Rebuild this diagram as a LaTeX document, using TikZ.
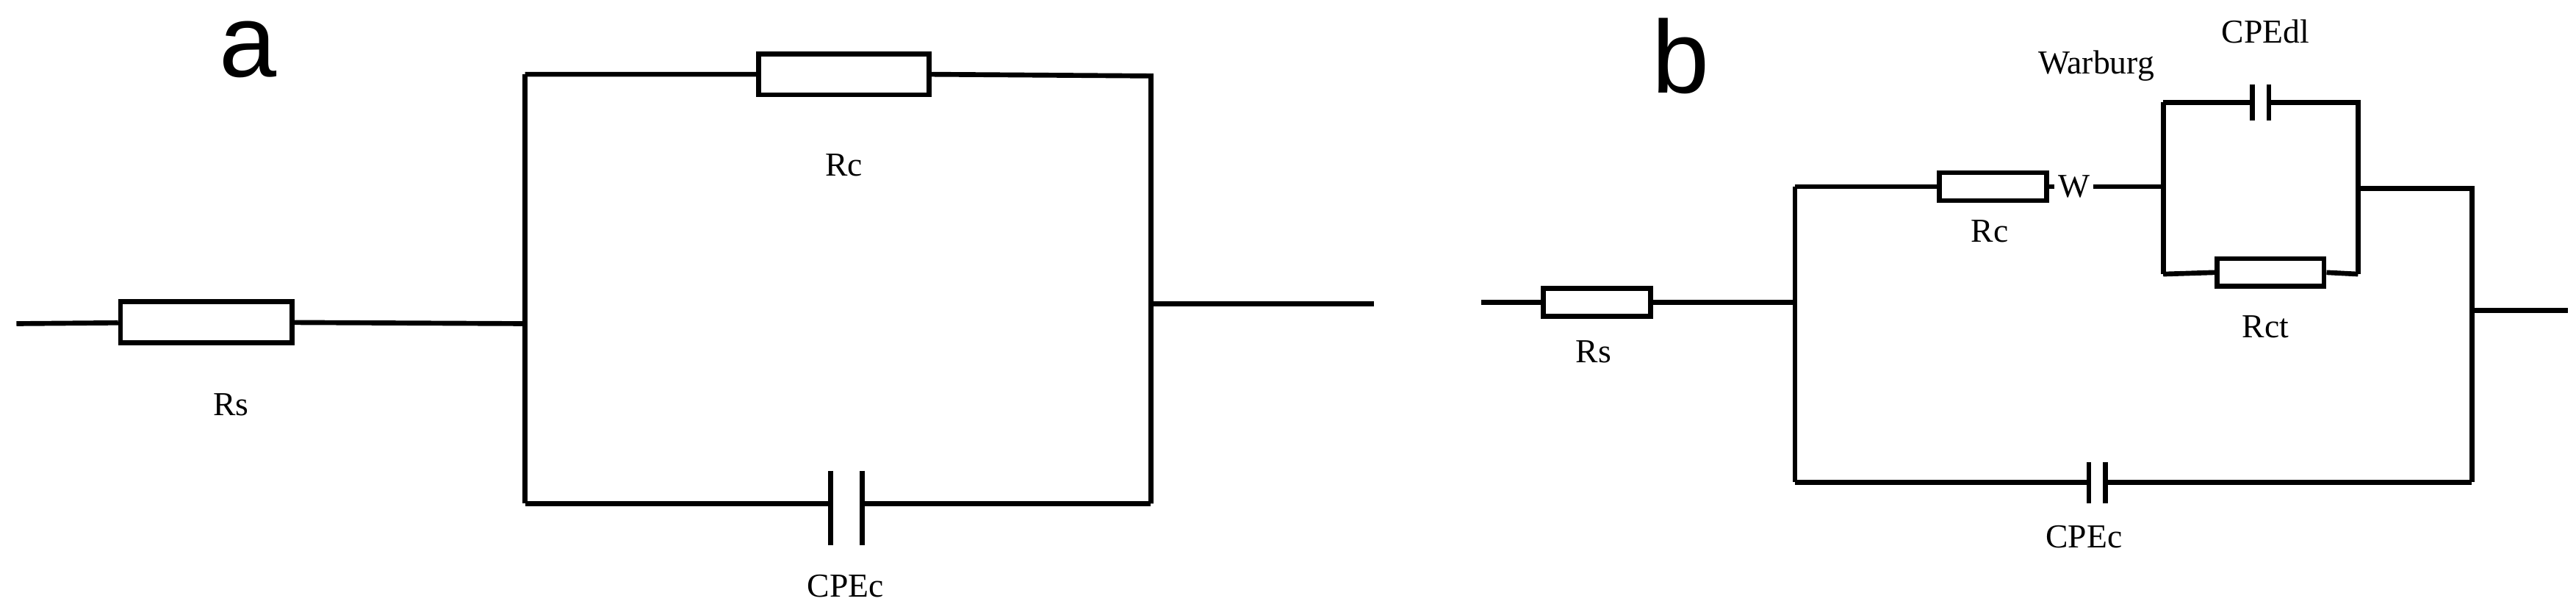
\documentclass[tikz,border=0pt]{standalone}
\usepackage{fontspec}
\setmainfont{Liberation Serif}
\newfontfamily\lblsans{Liberation Sans}
\begin{document}
\begin{tikzpicture}[x=0.0225cm,y=-0.0225cm,line width=1.9pt,
  res/.style={draw,fill=white,rectangle,inner sep=0pt,minimum width=#1},
  lbl/.style={font=\fontsize{13}{14}\selectfont,inner sep=0pt},
  big/.style={font=\lblsans\fontsize{40}{42}\selectfont,inner sep=0pt}]
\useasboundingbox (0,0) rectangle (1560,372.4);
% ---------- panel a ----------
\node[big] (la) at (150,30) {a};
\coordinate (ain) at (10,196);
\node[res=2.34cm, minimum height=0.56cm] (Rsa) at (125,195) {};
\coordinate (aj1) at (318,196);
\coordinate (aj1t) at (318,45);
\coordinate (aj1b) at (318,305);
\node[res=2.32cm, minimum height=0.56cm] (Rca) at (511,45) {};
\coordinate (aj2t) at (697,46);
\coordinate (aj2b) at (697,305);
\coordinate (aj2) at (697,184);
\coordinate (aout) at (832,184);
\coordinate (acl) at (503,305);
\coordinate (acr) at (522,305);
\draw (ain) -- (Rsa) (Rsa) -- (aj1);
\draw (aj1t) -- (aj1b);
\draw (aj1t) -- (Rca.west) (Rca.east) -- (aj2t) -- (aj2b);
\draw (aj2) -- (aout);
\draw (aj1b) -- (acl) (acr) -- (aj2b);
\draw (acl) ++(0,-20) -- ++(0,45) (acr) ++(0,-20) -- ++(0,45);
\node[lbl] (tRsa) at (140,245) {Rs};
\node[lbl] (tRca) at (511,100) {Rc};
\node[lbl] (tCa) at (512,355) {CPEc};
% ---------- panel b ----------
\node[big] (lb) at (1018,34) {b};
\coordinate (bin) at (897,183);
\node[res=1.46cm, minimum height=0.38cm] (Rsb) at (967,183) {};
\coordinate (bj1) at (1087,183);
\coordinate (bj1t) at (1087,113);
\coordinate (bj1b) at (1087,292);
\node[res=1.46cm, minimum height=0.38cm] (Rcb) at (1207,113) {};
\node[lbl,fill=white,inner xsep=0.5pt] (W) at (1256,113) {W};
\coordinate (p1) at (1310,113);
\coordinate (p1t) at (1310,62);
\coordinate (p1b) at (1310,166);
\coordinate (p2t) at (1428,62);
\coordinate (p2b) at (1428,166);
\coordinate (p2) at (1428,114);
\node[res=1.46cm, minimum height=0.38cm] (Rct) at (1375,165) {};
\coordinate (dcl) at (1364,62);
\coordinate (dcr) at (1374,62);
\coordinate (bj2t) at (1497,114);
\coordinate (bj2) at (1497,188);
\coordinate (bj2b) at (1497,292);
\coordinate (bout) at (1555,188);
\coordinate (bcl) at (1265,292);
\coordinate (bcr) at (1275,292);
\draw (bin) -- (Rsb) (Rsb) -- (bj1);
\draw (bj1t) -- (bj1b);
\draw (bj1t) -- (Rcb.west) (Rcb.east) -- (W) (W) -- (p1);
\draw (p1t) -- (p1b);
\draw (p1t) -- (dcl) (dcr) -- (p2t) -- (p2b);
\draw (p1b) -- (Rct.west) (Rct.east) -- (p2b);
\draw (p2) -- (bj2t) -- (bj2b);
\draw (bj2) -- (bout);
\draw (bj1b) -- (bcl) (bcr) -- (bj2b);
\draw (dcl) ++(0,-11) -- ++(0,22) (dcr) ++(0,-11) -- ++(0,22);
\draw (bcl) ++(0,-12) -- ++(0,25) (bcr) ++(0,-12) -- ++(0,25);
\node[lbl] (tRsb) at (965,213) {Rs};
\node[lbl] (tRcb) at (1205,140) {Rc};
\node[lbl,anchor=east] (tWar) at (1306,40) {Warburg};
\node[lbl] (tdl) at (1372,19) {CPEdl};
\node[lbl] (tRct) at (1372,198) {Rct};
\node[lbl] (tCb) at (1262,325) {CPEc};
\end{tikzpicture}
\end{document}
